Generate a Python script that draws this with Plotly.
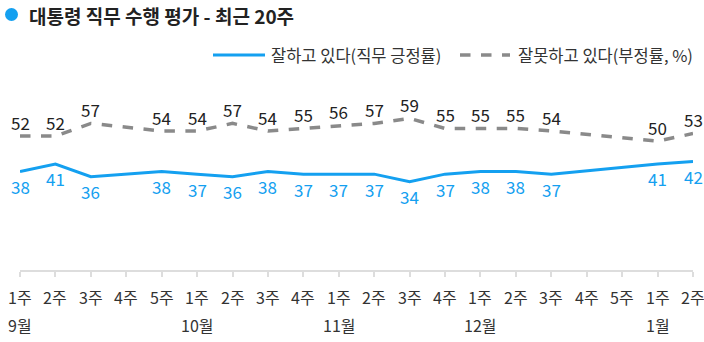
import plotly.graph_objects as go

# Weekly presidential job approval, last 20 weeks
weeks = ["1주", "2주", "3주", "4주", "5주",
         "1주", "2주", "3주", "4주",
         "1주", "2주", "3주", "4주",
         "1주", "2주", "3주", "4주", "5주",
         "1주", "2주"]
months = ["9월", "10월", "11월", "12월", "1월"]
month_start = [0, 5, 9, 13, 18]

approve = [38, 41, 36, None, 38, 37, 36, 38, 37, 37, 37, 34, 37, 38, 38, 37, None, None, 41, 42]
disapprove = [52, 52, 57, None, 54, 54, 57, 54, 55, 56, 57, 59, 55, 55, 55, 54, None, None, 50, 53]

BLUE = "#14a0f0"
GRAY = "#8a8a8a"
FONT = "Noto Sans CJK KR"

W, H = 704, 342
L, R, T, B = 20, 11, 60, 72
x_idx = list(range(len(weeks)))


def px(xp):
    return (xp - L) / (W - L - R)


def py(yp):
    return (H - B - yp) / (H - T - B)


fig = go.Figure()
fig.add_trace(go.Scatter(
    x=x_idx, y=disapprove, mode="lines", connectgaps=True,
    line=dict(color=GRAY, width=3.5, dash="dash"), hoverinfo="skip",
))
fig.add_trace(go.Scatter(
    x=x_idx, y=approve, mode="lines", connectgaps=True,
    line=dict(color=BLUE, width=3), hoverinfo="skip",
))

annotations = []
for i, v in enumerate(disapprove):
    if v is not None:
        annotations.append(dict(x=i, y=v, xref="x", yref="y", text=str(v), showarrow=False,
                                yshift=14, font=dict(family=FONT, size=17, color="#222")))
for i, v in enumerate(approve):
    if v is not None:
        annotations.append(dict(x=i, y=v, xref="x", yref="y", text=str(v), showarrow=False,
                                yshift=-15, font=dict(family=FONT, size=17, color=BLUE)))
# week labels under each tick, month labels under the first week of each month
for i, wk in enumerate(weeks):
    annotations.append(dict(x=i, y=py(297), xref="x", yref="paper", yanchor="middle",
                            text=wk, showarrow=False,
                            font=dict(family=FONT, size=16, color="#333")))
for m, s in zip(months, month_start):
    annotations.append(dict(x=s, y=py(325), xref="x", yref="paper", yanchor="middle",
                            text=m, showarrow=False,
                            font=dict(family=FONT, size=16, color="#333")))

# title
annotations.append(dict(x=px(27), y=py(15), xref="paper", yref="paper", xanchor="left",
                        yanchor="middle", text="<b>대통령 직무 수행 평가 - 최근 20주</b>",
                        showarrow=False, font=dict(family=FONT, size=19, color="#222")))
# legend texts
annotations.append(dict(x=px(269), y=py(55), xref="paper", yref="paper", xanchor="left",
                        yanchor="middle", text="잘하고 있다(직무 긍정률)", showarrow=False,
                        font=dict(family=FONT, size=16.5, color="#333")))
annotations.append(dict(x=px(516), y=py(55), xref="paper", yref="paper", xanchor="left",
                        yanchor="middle", text="잘못하고 있다(부정률, %)", showarrow=False,
                        font=dict(family=FONT, size=16.5, color="#333")))

shapes = [
    dict(type="circle", xref="paper", yref="paper", xsizemode="pixel", ysizemode="pixel",
         xanchor=px(11.5), yanchor=py(14.5), x0=-6.5, x1=6.5, y0=-6.5, y1=6.5,
         fillcolor=BLUE, line=dict(width=0)),
    dict(type="line", xref="paper", yref="paper", x0=px(213), x1=px(265), y0=py(55), y1=py(55),
         line=dict(color=BLUE, width=3)),
    dict(type="line", xref="paper", yref="paper", x0=px(460), x1=px(510), y0=py(55), y1=py(55),
         line=dict(color=GRAY, width=3.5, dash="dash")),
]

fig.update_layout(
    width=W, height=H, margin=dict(l=L, r=R, t=T, b=B),
    paper_bgcolor="white", plot_bgcolor="white", showlegend=False,
    annotations=annotations, shapes=shapes,
    xaxis=dict(range=[0, 19], tickmode="array", tickvals=x_idx, showticklabels=False,
               showgrid=False, zeroline=False, showline=True, linecolor="#dddddd", linewidth=2,
               ticks="outside", ticklen=5, tickcolor="#dddddd", tickwidth=1.5),
    yaxis=dict(range=[-0.8, 82], visible=False, showgrid=False, zeroline=False),
)

fig.write_html("out.html")
